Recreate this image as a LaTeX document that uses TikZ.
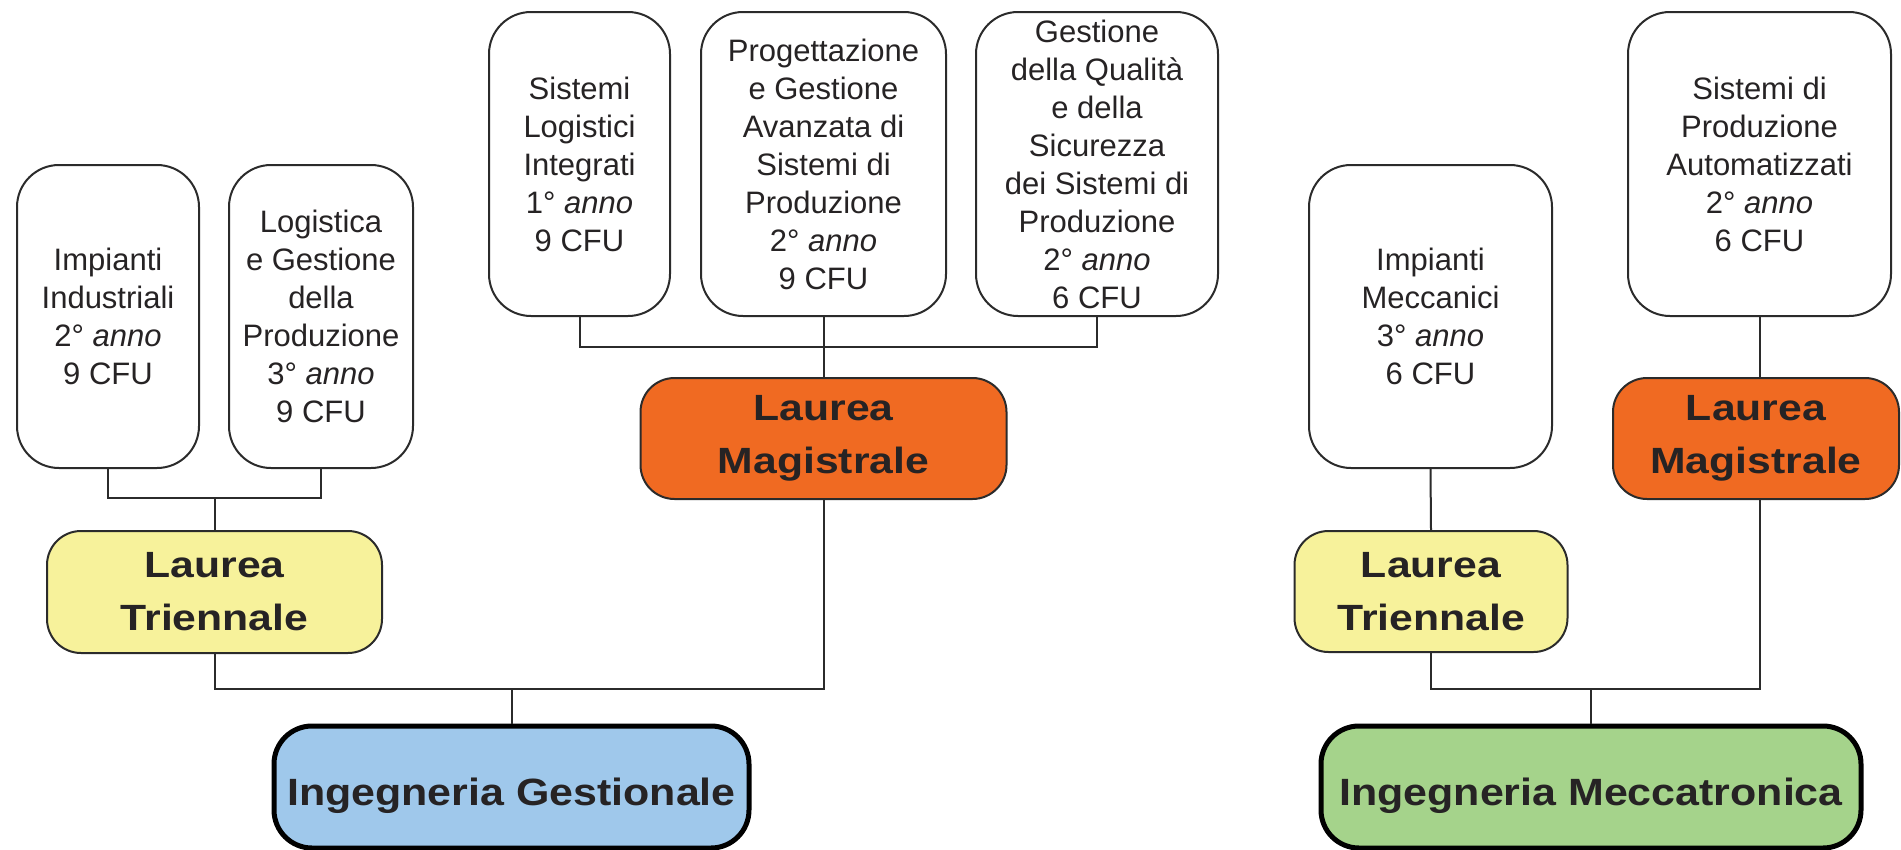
\documentclass[tikz,border=0pt]{standalone}
\usepackage{fontspec}
\setmainfont{Liberation Sans}
\newfontfamily\labfont[FakeStretch=1.17]{Liberation Sans Bold}
\newfontfamily\schoolfont[FakeStretch=1.13]{Liberation Sans Bold}
\definecolor{ink}{HTML}{262324}
\definecolor{lineink}{HTML}{2B2B2B}
\definecolor{triyellow}{HTML}{F7F29B}
\definecolor{magorange}{HTML}{F06A22}
\definecolor{gestblue}{HTML}{9FC8EB}
\definecolor{meccgreen}{HTML}{A5D38B}
\tikzset{
  course/.style={draw=lineink, line width=2pt, fill=white, rounded corners=42pt,
    inner sep=0pt, align=center, text=ink,
    font=\fontsize{31}{38}\selectfont},
  degree/.style={draw=lineink, line width=2pt, rounded corners=34pt,
    inner sep=0pt, align=center, text=ink,
    font=\labfont\fontsize{36.5}{53}\selectfont},
  school/.style={draw=black, line width=5pt, rounded corners=38pt,
    inner sep=0pt, align=center, text=ink,
    font=\schoolfont\fontsize{38}{46}\selectfont},
  link/.style={draw=lineink, line width=2pt}
}
% baseline placed a fixed distance below the box centre
\newcommand{\lowered}[1]{\raisebox{-18pt}[0pt][0pt]{#1}}
\begin{document}
\begin{tikzpicture}[x=1pt,y=-1pt]
\useasboundingbox (0,0) rectangle (1901,849);

% ---------- Ingegneria Gestionale ----------
\node[course, minimum width=182pt, minimum height=303pt] (ii) at (108,316.5)
  {Impianti\\Industriali\\2° \textit{anno}\\9 CFU};
\node[course, minimum width=184pt, minimum height=303pt] (lgp) at (321,316.5)
  {Logistica\\e Gestione\\della\\Produzione\\3° \textit{anno}\\9 CFU};
\node[degree, fill=triyellow, minimum width=335pt, minimum height=122pt] (ltg) at (214.5,592)
  {Laurea\\Triennale};

\node[course, minimum width=181pt, minimum height=304pt] (sli) at (579.5,164)
  {Sistemi\\Logistici\\Integrati\\1° \textit{anno}\\9 CFU};
\node[course, minimum width=245pt, minimum height=304pt] (pga) at (823.5,164)
  {Progettazione\\e Gestione\\Avanzata di\\Sistemi di\\Produzione\\2° \textit{anno}\\9 CFU};
\node[course, minimum width=242pt, minimum height=304pt] (gqs) at (1097,164)
  {Gestione\\della Qualità\\e della\\Sicurezza\\dei Sistemi di\\Produzione\\2° \textit{anno}\\6 CFU};
\node[degree, fill=magorange, minimum width=366pt, minimum height=121pt] (lmg) at (823.5,438.5)
  {Laurea\\Magistrale};

\node[school, fill=gestblue, minimum width=475pt, minimum height=122pt] (ig) at (511.5,787)
  {\lowered{Ingegneria Gestionale}};

% ---------- Ingegneria Meccatronica ----------
\node[course, minimum width=243pt, minimum height=303pt] (im) at (1430.5,316.5)
  {Impianti\\Meccanici\\3° \textit{anno}\\6 CFU};
\node[course, minimum width=263pt, minimum height=304pt] (spa) at (1759.5,164)
  {Sistemi di\\Produzione\\Automatizzati\\2° \textit{anno}\\6 CFU};
\node[degree, fill=triyellow, minimum width=273pt, minimum height=121pt] (ltm) at (1431,591.5)
  {Laurea\\Triennale};
\node[degree, fill=magorange, minimum width=286pt, minimum height=121pt] (lmm) at (1756,438.5)
  {Laurea\\Magistrale};
\node[school, fill=meccgreen, minimum width=540pt, minimum height=122pt] (imec) at (1591,787)
  {\lowered{Ingegneria Meccatronica}};

% ---------- bus levels ----------
\coordinate (busA) at (0,498);
\coordinate (busB) at (0,347);
\coordinate (busC) at (0,689);

% courses -> Laurea Triennale (Gestionale)
\draw[link] (ii.south) |- (busA -| lgp.south) -- (lgp.south);
\draw[link] (ltg.north) -- (ltg.north |- busA);

% courses -> Laurea Magistrale (Gestionale)
\draw[link] (sli.south) |- (busB -| gqs.south) -- (gqs.south);
\draw[link] (pga.south) -- (lmg.north);

% degrees -> Ingegneria Gestionale
\draw[link] (ltg.south) |- (busC -| lmg.south) -- (lmg.south);
\draw[link] (ig.north) -- (ig.north |- busC);

% Ingegneria Meccatronica branch
\draw[link] (im.south) -- (ltm.north);
\draw[link] (spa.south) -- (spa.south |- lmm.north);
\draw[link] (ltm.south) |- (busC -| imec.north);
\draw[link] (lmm.south -| spa.south) |- (busC -| imec.north) -- (imec.north);
\end{tikzpicture}
\end{document}
